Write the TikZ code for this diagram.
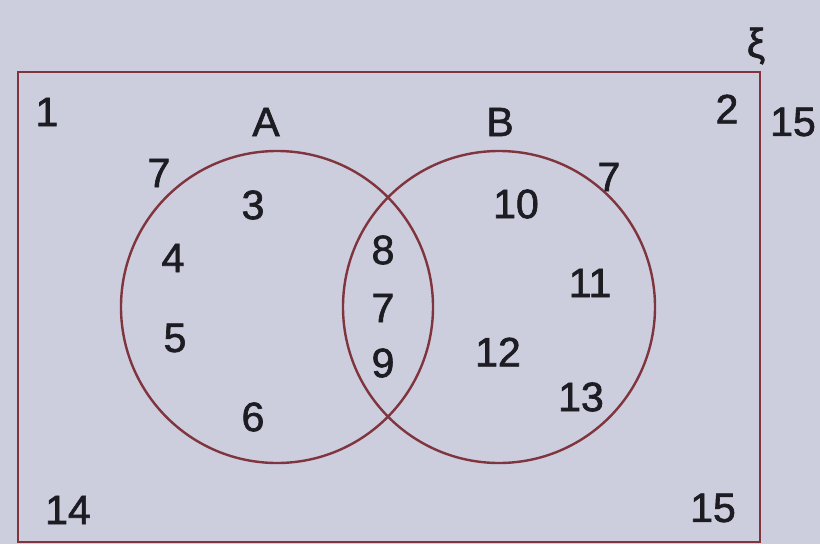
\documentclass[tikz,border=0pt]{standalone}
\usepackage{fontspec}
\setmainfont{Liberation Sans}
\newfontfamily\semib[FakeBold=1.6]{Liberation Sans}
\definecolor{bgc}{RGB}{204,205,221}
\definecolor{linec}{RGB}{128,52,62}
\definecolor{txtc}{RGB}{28,28,34}
\begin{document}
\begin{tikzpicture}[x=1pt,y=-1pt,
  lbl/.style={text=txtc,inner sep=0pt,font=\semib\fontsize{41}{48}\selectfont},
  setline/.style={draw=linec,line width=2.4pt}]
\useasboundingbox (0,0) rectangle (820,544);
\fill[bgc] (0,0) rectangle (820,544);
\draw[setline] (18,72) rectangle (760,542);
\node[setline,circle,minimum size=312pt,inner sep=0pt] (cA) at (277,307) {};
\node[setline,circle,minimum size=312pt,inner sep=0pt] (cB) at (499,307) {};
\node[lbl] (xi) at (756,46) {ξ};
\node[lbl] (n1) at (47,112) {1};
\node[lbl] (lA) at (266,122) {A};
\node[lbl] (lB) at (500,122) {B};
\node[lbl] (n2) at (727,109) {2};
\node[lbl] (n15r) at (793,122) {15};
\node[lbl] (n7a) at (159,173) {7};
\node[lbl] (n3) at (253,205) {3};
\node[lbl] (n4) at (173,258) {4};
\node[lbl] (n5) at (175,338) {5};
\node[lbl] (n6) at (253,417) {6};
\node[lbl] (n8) at (383,250) {8};
\node[lbl] (n7m) at (383,308) {7};
\node[lbl] (n9) at (383,363) {9};
\node[lbl] (n7b) at (609,177) {7};
\node[lbl] (n10) at (516,204) {10};
\node[lbl] (n11) at (590,283) {11};
\node[lbl] (n12) at (498,352) {12};
\node[lbl] (n13) at (581,397) {13};
\node[lbl] (n14) at (68,510) {14};
\node[lbl] (n15) at (713,508) {15};
\end{tikzpicture}
\end{document}
